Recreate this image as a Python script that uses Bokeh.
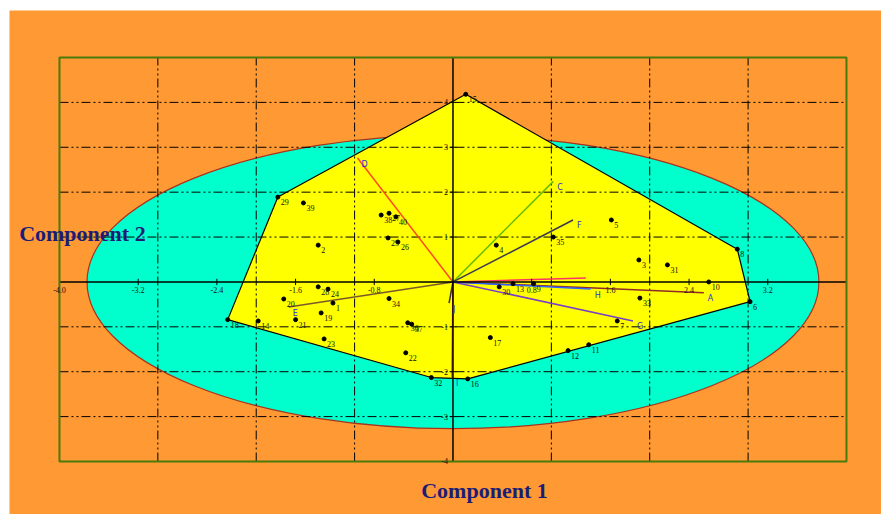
from bokeh.plotting import figure
from bokeh.models import Range1d, Label, Spacer
from bokeh.layouts import column, row
from bokeh.core.properties import value
from bokeh.embed import file_html
from bokeh.resources import INLINE

# Observation scores on the first two components
obs_labels = ["1", "2", "3", "4", "5", "6", "7", "8", "9", "10",
              "11", "12", "13", "14", "15", "16", "17", "18", "19", "20",
              "21", "22", "23", "24", "25", "26", "27", "28", "29", "30",
              "31", "32", "33", "34", "35", "36", "37", "38", "39", "40"]
obs_x = [-1.22, -1.37, 1.89, 0.44, 1.61, 3.02, 1.67, 2.89, 0.82, 2.60,
         1.38, 1.17, 0.61, -1.98, 0.13, 0.15, 0.38, -2.29, -1.34, -1.72,
         -1.60, -0.48, -1.31, -1.27, -0.66, -0.56, -0.65, -1.37, -1.78, 0.47,
         2.18, -0.22, 1.90, -0.65, 1.02, -0.46, -0.42, -0.73, -1.52, -0.58]
obs_y = [-0.47, 0.82, 0.49, 0.82, 1.38, -0.44, -0.87, 0.73, -0.04, 0.00,
         -1.40, -1.53, -0.04, -0.87, 4.18, -2.16, -1.24, -0.84, -0.69, -0.38,
         -0.84, -1.58, -1.27, -0.16, 0.98, 0.89, 1.53, -0.11, 1.89, -0.11,
         0.38, -2.13, -0.36, -0.37, 1.00, -0.91, -0.94, 1.49, 1.76, 1.45]

# Variable loadings drawn as vectors from the origin
var_labels = ["A", "", "C", "D", "E", "F", "G", "H", "I", "J"]
var_x = [2.55, 1.35, 1.02, -0.97, -1.67, 1.22, 1.83, 1.40, -0.01, -0.04]
var_y = [-0.24, 0.09, 2.24, 2.76, -0.56, 1.38, -0.87, -0.16, -2.13, -0.47]
var_colors = ["#8E2A2A", "#FF3366", "#66BB00", "#FF4A1A", "#7A5A2A",
              "#3A3A55", "#7A3FC8", "#2F62FF", "#FF3A10", "#333333"]

# Axis ticks and grid
x_tick_values = [-4.0, -3.2, -2.4, -1.6, -0.8, 0.8, 1.6, 2.4, 3.2]
x_tick_labels = ["-4.0", "-3.2", "-2.4", "-1.6", "-0.8", "0.8", "1.6", "2.4", "3.2"]
y_tick_values = [4, 3, 2, 1, -1, -2, -3, -4]
y_tick_labels = ["4", "3", "2", "1", "-1", "-2", "-3", "-4"]
grid_x = [-3, -2, -1, 1, 2, 3]
grid_y = [-3, -2, -1, 1, 2, 3, 4]

# Confidence ellipse semi-axes
ellipse_a = 3.72
ellipse_b = 3.27

# Plot area limits (the framed region) and the surrounding margin in data units
X_MIN, X_MAX, Y_MIN, Y_MAX = -4, 4, -4, 5
VIEW_X = (-4.508, 4.356)
VIEW_Y = (-5.181, 6.047)
ORANGE = "#FF9933"


def convex_hull(xs, ys):
    pts = sorted(set(zip(xs, ys)))

    def cross(o, a, b):
        return (a[0] - o[0]) * (b[1] - o[1]) - (a[1] - o[1]) * (b[0] - o[0])

    lower, upper = [], []
    for pt in pts:
        while len(lower) >= 2 and cross(lower[-2], lower[-1], pt) <= 0:
            lower.pop()
        lower.append(pt)
    for pt in reversed(pts):
        while len(upper) >= 2 and cross(upper[-2], upper[-1], pt) <= 0:
            upper.pop()
        upper.append(pt)
    hull = lower[:-1] + upper[:-1]
    return [h[0] for h in hull], [h[1] for h in hull]


p = figure(width=872, height=504, title=None,
           x_range=Range1d(*VIEW_X), y_range=Range1d(*VIEW_Y),
           x_axis_location=None, y_axis_location=None,
           toolbar_location=None, output_backend="svg",
           min_border=0, min_border_left=0, min_border_right=0,
           min_border_top=0, min_border_bottom=0,
           background_fill_color=ORANGE, border_fill_color=ORANGE,
           outline_line_color=None)
p.grid.visible = False

# ellipse and convex hull of the observations
p.ellipse(x=[0], y=[0], width=[2 * ellipse_a], height=[2 * ellipse_b],
          fill_color="#00FFCC", line_color="#A8321E", line_width=1.2)
hx, hy = convex_hull(obs_x, obs_y)
p.patch(hx, hy, fill_color="#FFFF00", line_color="black", line_width=1.2)

# dash-dot-dot grid
grid_dash = "9 3 2 3 2 3"
p.segment(x0=grid_x, y0=[Y_MIN] * len(grid_x), x1=grid_x, y1=[Y_MAX] * len(grid_x),
          line_color="black", line_width=1, line_dash=grid_dash)
p.segment(x0=[X_MIN] * len(grid_y), y0=grid_y, x1=[X_MAX] * len(grid_y), y1=grid_y,
          line_color="black", line_width=1, line_dash=grid_dash)

# loading vectors
n = len(var_x)
p.segment(x0=[0] * n, y0=[0] * n, x1=var_x, y1=var_y,
          line_color=var_colors, line_width=1.5)

# axes through the origin
p.segment(x0=[0, X_MIN], y0=[Y_MIN, 0], x1=[0, X_MAX], y1=[Y_MAX, 0],
          line_color="black", line_width=1.5)
p.segment(x0=x_tick_values, y0=[-0.07] * len(x_tick_values),
          x1=x_tick_values, y1=[0.07] * len(x_tick_values),
          line_color="black", line_width=1)
p.segment(x0=[-0.035] * len(y_tick_values), y0=y_tick_values,
          x1=[0.035] * len(y_tick_values), y1=y_tick_values,
          line_color="black", line_width=1)

# frame around the plotting area
p.quad(left=[X_MIN], right=[X_MAX], bottom=[Y_MIN], top=[Y_MAX],
       fill_color=None, line_color="#4A7A0A", line_width=2)

tick_font = value("Liberation Serif")
p.text(x=x_tick_values, y=[0] * len(x_tick_values), text=x_tick_labels,
       text_font=tick_font, text_font_size="8px", text_color="#111111",
       text_align="center", text_baseline="top", y_offset=5)
p.text(x=[0] * len(y_tick_values), y=y_tick_values, text=y_tick_labels,
       text_font=tick_font, text_font_size="8px", text_color="#111111",
       text_align="right", text_baseline="middle", x_offset=-5)

# observations
p.scatter(obs_x, obs_y, size=4, color="black")
p.text(x=obs_x, y=obs_y, text=obs_labels,
       text_font=tick_font, text_font_size="8px", text_color="#111111",
       text_align="left", text_baseline="middle", x_offset=3, y_offset=5)

# vector names
p.text(x=var_x, y=var_y, text=var_labels,
       text_font=value("DejaVu Sans"), text_font_size="8px", text_color="#2B2BE0",
       text_align="left", text_baseline="middle", x_offset=4, y_offset=6)

title_kw = dict(text_font="Liberation Serif", text_font_style="bold",
                text_font_size="22px", text_color="#1C1C78", text_baseline="middle")
p.add_layout(Label(x=-4.41, y=1.09, text="Component 2", text_align="left", **title_kw))
p.add_layout(Label(x=0.32, y=-4.646, text="Component 1", text_align="center", **title_kw))

layout = column(Spacer(width=881, height=10),
                row(Spacer(width=9, height=504), p, spacing=0), spacing=0)

open("out.html", "w").write(file_html(layout, INLINE))
